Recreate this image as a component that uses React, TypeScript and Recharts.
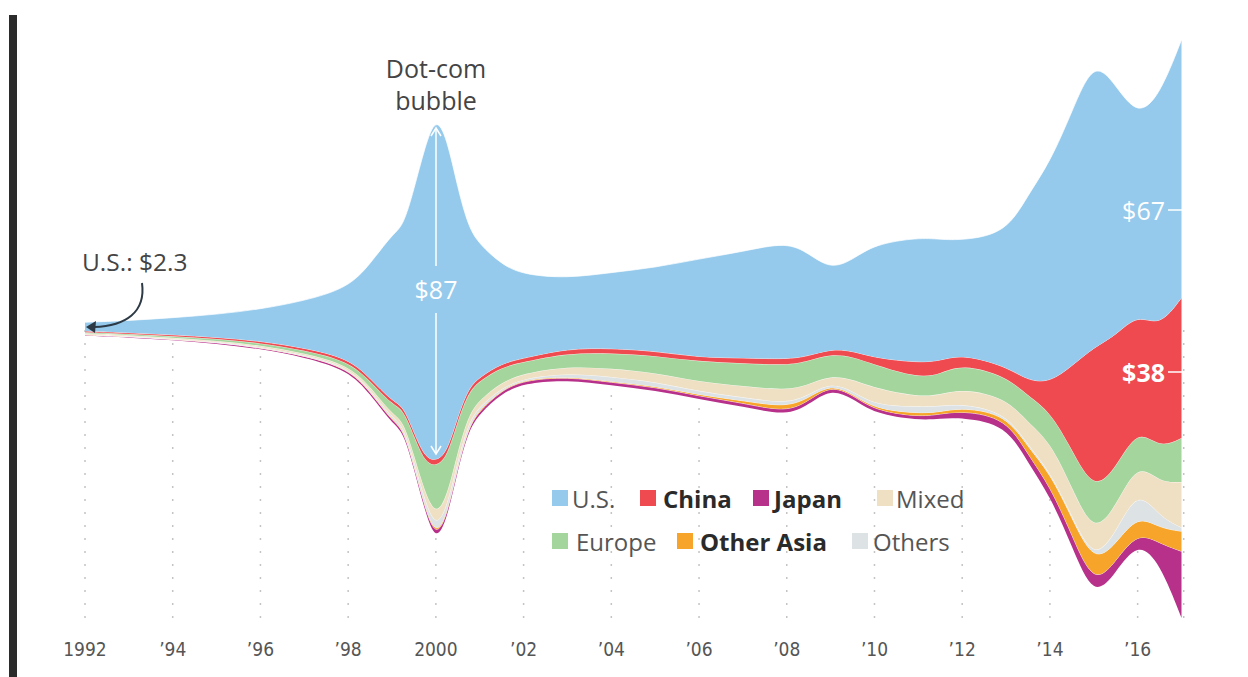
import React from 'react';
import { AreaChart, Area, XAxis, YAxis, CartesianGrid } from 'recharts';

// years (half-year steps where the stream moves fast)
const years = [
  1992, 1993, 1994, 1995, 1996, 1997, 1998, 1998.5, 1999, 1999.25, 1999.5, 1999.75,
  2000, 2000.25, 2000.5, 2000.75, 2001, 2001.5, 2002, 2003, 2004, 2005, 2006, 2007,
  2008, 2008.5, 2009, 2009.5, 2010, 2011, 2011.5, 2012, 2013, 2013.5, 2014, 2014.5,
  2015, 2015.5, 2016, 2016.5, 2017,
];

// $ billions
const us = [
  2.3, 3.2, 4.5, 6, 8.4, 12.4, 18.5, 30, 44, 47, 64, 82,
  91, 83, 60, 42, 35, 26, 22, 18.5, 20, 22, 26, 28,
  31, 27, 21, 24, 30, 33, 32, 30, 35, 49, 58, 67,
  76, 66, 52, 61, 68,
];
const china = [
  0.3, 0.3, 0.4, 0.4, 0.5, 0.6, 0.8, 0.8, 0.9, 0.9, 1, 1.2,
  1.4, 1.3, 1.2, 1.1, 1, 1, 1, 1.2, 1.3, 1.2, 1.1, 1.4,
  1.6, 1.3, 1.3, 1.5, 1.8, 4, 3.5, 2.6, 2.6, 4, 7.6, 22,
  38, 35, 30, 32, 37,
];
const europe = [
  0.3, 0.3, 0.4, 0.5, 0.6, 0.8, 1, 1.5, 2.5, 3, 5, 8,
  13, 10.5, 8, 6, 5, 4, 3, 3.5, 4, 4.5, 5.3, 6,
  6.6, 6.2, 5.7, 6, 6.2, 5, 5.5, 6.5, 5.7, 7, 7.9, 10,
  11.5, 10, 9, 9, 11.6,
];
const mixed = [
  0.3, 0.3, 0.3, 0.3, 0.4, 0.4, 0.5, 0.7, 1, 1.2, 1.5, 2.2,
  3.2, 2.8, 2.4, 2, 1.7, 1.5, 1.3, 1.8, 2.2, 2.4, 2.6, 3,
  3.5, 2.8, 1.8, 3, 4.5, 2.6, 3, 4, 3.9, 6, 7.9, 7.5,
  7, 7, 7, 9, 12,
];
const others = [
  0.1, 0.1, 0.1, 0.15, 0.2, 0.2, 0.3, 0.4, 0.6, 0.7, 1, 1.5,
  2.2, 1.8, 1.4, 1, 0.8, 0.5, 0.3, 0.8, 1.3, 1.1, 0.9, 0.9,
  1, 0.7, 0.5, 0.8, 1, 1.8, 1.5, 1, 0.5, 0.5, 0.5, 0.5,
  0.5, 3, 7, 3, 1,
];
const otherAsia = [
  0.05, 0.05, 0.05, 0.05, 0.05, 0.05, 0.1, 0.2, 0.2, 0.3, 0.3, 0.4,
  0.4, 0.4, 0.3, 0.3, 0.3, 0.2, 0.2, 0.2, 0.2, 0.3, 0.3, 0.6,
  1.3, 0.8, 0.3, 0.3, 0.4, 0.9, 0.6, 0.9, 0.9, 2, 3.4, 4.5,
  6, 4.5, 4.5, 4, 5.3,
];
const japan = [
  0.2, 0.2, 0.2, 0.3, 0.3, 0.4, 0.5, 0.6, 0.7, 0.7, 0.8, 0.9,
  1.1, 1, 0.9, 0.8, 0.8, 0.8, 0.8, 0.8, 0.8, 0.9, 0.8, 0.9,
  1, 1, 0.9, 0.9, 0.9, 0.9, 1.2, 1.8, 1.8, 2.2, 2.6, 3,
  3.4, 3, 2.6, 5, 17.6,
];

const yearTicks = [1992, 1994, 1996, 1998, 2000, 2002, 2004, 2006, 2008, 2010, 2012, 2014, 2016];

const data = years.map((year, i) => ({
  year,
  japan: japan[i],
  otherAsia: otherAsia[i],
  others: others[i],
  mixed: mixed[i],
  europe: europe[i],
  china: china[i],
  us: us[i],
}));

// bottom of the stream first
const series = [
  { key: 'japan', color: '#b7308a' },
  { key: 'otherAsia', color: '#f6a52a' },
  { key: 'others', color: '#dde2e5' },
  { key: 'mixed', color: '#efe0c4' },
  { key: 'europe', color: '#a4d59c' },
  { key: 'china', color: '#ee4a50' },
  { key: 'us', color: '#95caec' },
];

const legendRows = [
  [
    { label: 'U.S.', color: '#95caec', bold: false, sq: 552, tx: 572 },
    { label: 'China', color: '#ee4a50', bold: true, sq: 640, tx: 663 },
    { label: 'Japan', color: '#b7308a', bold: true, sq: 753, tx: 774 },
    { label: 'Mixed', color: '#efe0c4', bold: false, sq: 877, tx: 896 },
  ],
  [
    { label: 'Europe', color: '#a4d59c', bold: false, sq: 552, tx: 576 },
    { label: 'Other Asia', color: '#f6a52a', bold: true, sq: 677, tx: 700 },
    { label: 'Others', color: '#dde2e5', bold: false, sq: 852, tx: 873 },
  ],
];

const fmtYear = (v: number) =>
  v === 1992 || v === 2000 ? String(v) : '\u2019' + String(v).slice(2);

const font = '"Open Sans", "Noto Sans", sans-serif';

export default function App() {
  return (
    <div style={{ position: 'absolute', left: 0, top: 0, width: 1248, height: 677, background: '#fff', overflow: 'hidden' }}>
      <AreaChart
        width={1248}
        height={677}
        data={data}
        stackOffset="silhouette"
        margin={{ top: 29.5, right: 64.3, bottom: 18.5, left: 85 }}
      >
        <CartesianGrid
          horizontal={false}
          y={330}
          height={298}
          stroke="#c4c4c4"
          strokeWidth={1.5}
          strokeDasharray="2 11"
        />
        <XAxis
          type="number"
          dataKey="year"
          domain={[1992, 2017.05]}
          ticks={yearTicks}
          tickFormatter={fmtYear}
          axisLine={false}
          tickLine={false}
          height={30}
          tickMargin={8}
          tick={{ fontSize: 19, fill: '#555', fontFamily: '"Liberation Sans Narrow", "DejaVu Sans Condensed", Roboto, sans-serif' }}
          allowDataOverflow
        />
        <YAxis hide domain={[-79, 79]} allowDataOverflow />
        {series.map((s) => (
          <Area
            key={s.key}
            dataKey={s.key}
            stackId="1"
            type="basis"
            fill={s.color}
            fillOpacity={1}
            stroke="#fff"
            strokeWidth={0.7}
            isAnimationActive={false}
          />
        ))}
      </AreaChart>

      {/* annotations */}
      <svg width={1248} height={677} style={{ position: 'absolute', left: 0, top: 0, pointerEvents: 'none' }}>
        <rect x={9} y={15} width={8} height={662} fill="#2b2b2b" />

        <text x={436} y={78} textAnchor="middle" fontFamily={font} fontSize={25} fill="#444">Dot-com</text>
        <text x={436} y={110} textAnchor="middle" fontFamily={font} fontSize={25} fill="#444">bubble</text>

        <line x1={436} y1={129} x2={436} y2={266} stroke="#fff" strokeWidth={1.5} />
        <polyline points="431,136 436,128 441,136" fill="none" stroke="#fff" strokeWidth={1.5} />
        <text x={436} y={299} textAnchor="middle" fontFamily={font} fontSize={25} fill="#fff">$87</text>
        <line x1={436} y1={313} x2={436} y2={454} stroke="#fff" strokeWidth={1.5} />
        <polyline points="431,446 436,454 441,446" fill="none" stroke="#fff" strokeWidth={1.5} />

        <text x={82} y={271} fontFamily={font} fontSize={24.5} fill="#444">U.S.: $2.3</text>
        <path d="M142 283 C 146 312, 126 326, 94 327" fill="none" stroke="#2d3a45" strokeWidth={2} />
        <polygon points="86,327 96,321 95,333" fill="#2d3a45" />

        <text x={1165} y={220} textAnchor="end" fontFamily={font} fontSize={25} fill="#fff">$67</text>
        <line x1={1168} y1={210} x2={1184} y2={210} stroke="#fff" strokeWidth={1.5} />
        <text x={1165} y={382} textAnchor="end" fontFamily={font} fontSize={25} fontWeight={700} fill="#fff">$38</text>
        <line x1={1168} y1={372} x2={1184} y2={372} stroke="#fff" strokeWidth={1.5} />

        {legendRows.map((row, r) =>
          row.map((item) => (
            <g key={item.label}>
              <rect x={item.sq} y={r === 0 ? 490 : 533} width={16} height={16} fill={item.color} />
              <text
                x={item.tx}
                y={r === 0 ? 508 : 551}
                fontFamily={font}
                fontSize={24}
                fontWeight={item.bold ? 700 : 400}
                fill={item.bold ? '#2a2a2a' : '#555'}
              >
                {item.label}
              </text>
            </g>
          ))
        )}
      </svg>
    </div>
  );
}
